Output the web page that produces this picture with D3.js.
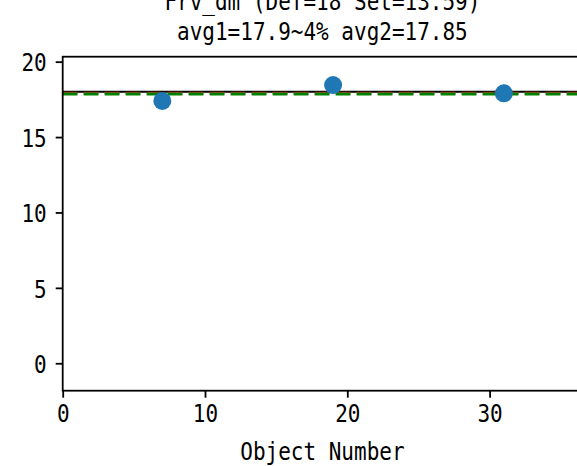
<!DOCTYPE html>
<html>
<head>
<meta charset="utf-8">
<script src="https://cdn.jsdelivr.net/npm/d3@7"></script>
<style>
  html, body { margin: 0; padding: 0; background: #fff; }
  svg { display: block; }
  text { font-family: "DejaVu Sans Mono", monospace; fill: #000; }
</style>
</head>
<body>
<svg id="chart" width="577" height="466"></svg>
<script>
// ---- data ----
const objectNumbers = [7, 19, 31];
const values = [17.4, 18.45, 17.9];
const defValue = 18;
const avg1 = 17.9;
const avg2 = 17.85;
const xTicks = [0, 10, 20, 30];
const yTicks = [0, 5, 10, 15, 20];
const titleLines = ["Frv_dm (Def=18 Set=13.59)", "avg1=17.9~4% avg2=17.85"];
const xLabel = "Object Number";

// ---- layout ----
const svg = d3.select("#chart");
const mLeft = 62.7, mTop = 56.7, mBottom = 390.7;
const xMax = 36.5;
const mRight = mLeft + xMax * 14.23;

const x = d3.scaleLinear().domain([0, xMax]).range([mLeft, mRight]);
const y = d3.scaleLinear().domain([-1.82, 20.33]).range([mBottom, mTop]);

const fs = 21;
const sy = 1.2; // vertical stretch to mimic the tall narrow glyphs

// reference lines
const g = svg.append("g");
g.append("line")
  .attr("x1", x(0)).attr("x2", x(xMax))
  .attr("y1", y(defValue)).attr("y2", y(defValue))
  .attr("stroke", "#000").attr("stroke-width", 2);
g.append("line")
  .attr("x1", x(0)).attr("x2", x(xMax))
  .attr("y1", y(avg1)).attr("y2", y(avg1))
  .attr("stroke", "#d62728").attr("stroke-width", 3)
  .attr("stroke-dasharray", "14.7,6.3");
g.append("line")
  .attr("x1", x(0)).attr("x2", x(xMax))
  .attr("y1", y(avg2)).attr("y2", y(avg2))
  .attr("stroke", "#008000").attr("stroke-width", 3)
  .attr("stroke-dasharray", "14.7,6.3");

// points
svg.append("g").selectAll("circle")
  .data(objectNumbers.map((d, i) => ({x: d, y: values[i]})))
  .join("circle")
  .attr("cx", d => x(d.x))
  .attr("cy", d => y(d.y))
  .attr("r", 9)
  .attr("fill", "#1f77b4");

// axes
const xAxis = d3.axisBottom(x).tickValues(xTicks).tickFormat(d3.format("d"))
  .tickSize(7).tickPadding(7).tickSizeOuter(0);
const yAxis = d3.axisLeft(y).tickValues(yTicks).tickFormat(d3.format("d"))
  .tickSize(7).tickPadding(9).tickSizeOuter(0);

const gx = svg.append("g").attr("transform", `translate(0,${mBottom})`).call(xAxis);
const gy = svg.append("g").attr("transform", `translate(${mLeft},0)`).call(yAxis);
[gx, gy].forEach(a => {
  a.select(".domain").remove();
  a.selectAll(".tick line").attr("stroke", "#000").attr("stroke-width", 1.8);
  a.selectAll(".tick text").attr("font-size", fs).attr("font-family", "DejaVu Sans Mono")
    .attr("y", 0).attr("dy", 0);
});
const half = 0.365 * fs * sy;
gy.selectAll(".tick text").attr("transform", `translate(0,${half}) scale(1,${sy})`);
gx.selectAll(".tick text").attr("transform", `translate(0,${22.5 + half}) scale(1,${sy})`);

// frame
svg.append("rect")
  .attr("x", mLeft).attr("y", mTop)
  .attr("width", mRight - mLeft).attr("height", mBottom - mTop)
  .attr("fill", "none").attr("stroke", "#000").attr("stroke-width", 1.8);

// texts
const cx = (mLeft + mRight) / 2;
function label(txt, px, py) {
  svg.append("text")
    .attr("transform", `translate(${px},${py}) scale(1,${sy})`)
    .attr("text-anchor", "middle")
    .attr("font-size", fs).text(txt);
}
label(titleLines[0], cx, 10);
label(titleLines[1], cx, 40);
label(xLabel, cx, 460);
</script>
</body>
</html>
